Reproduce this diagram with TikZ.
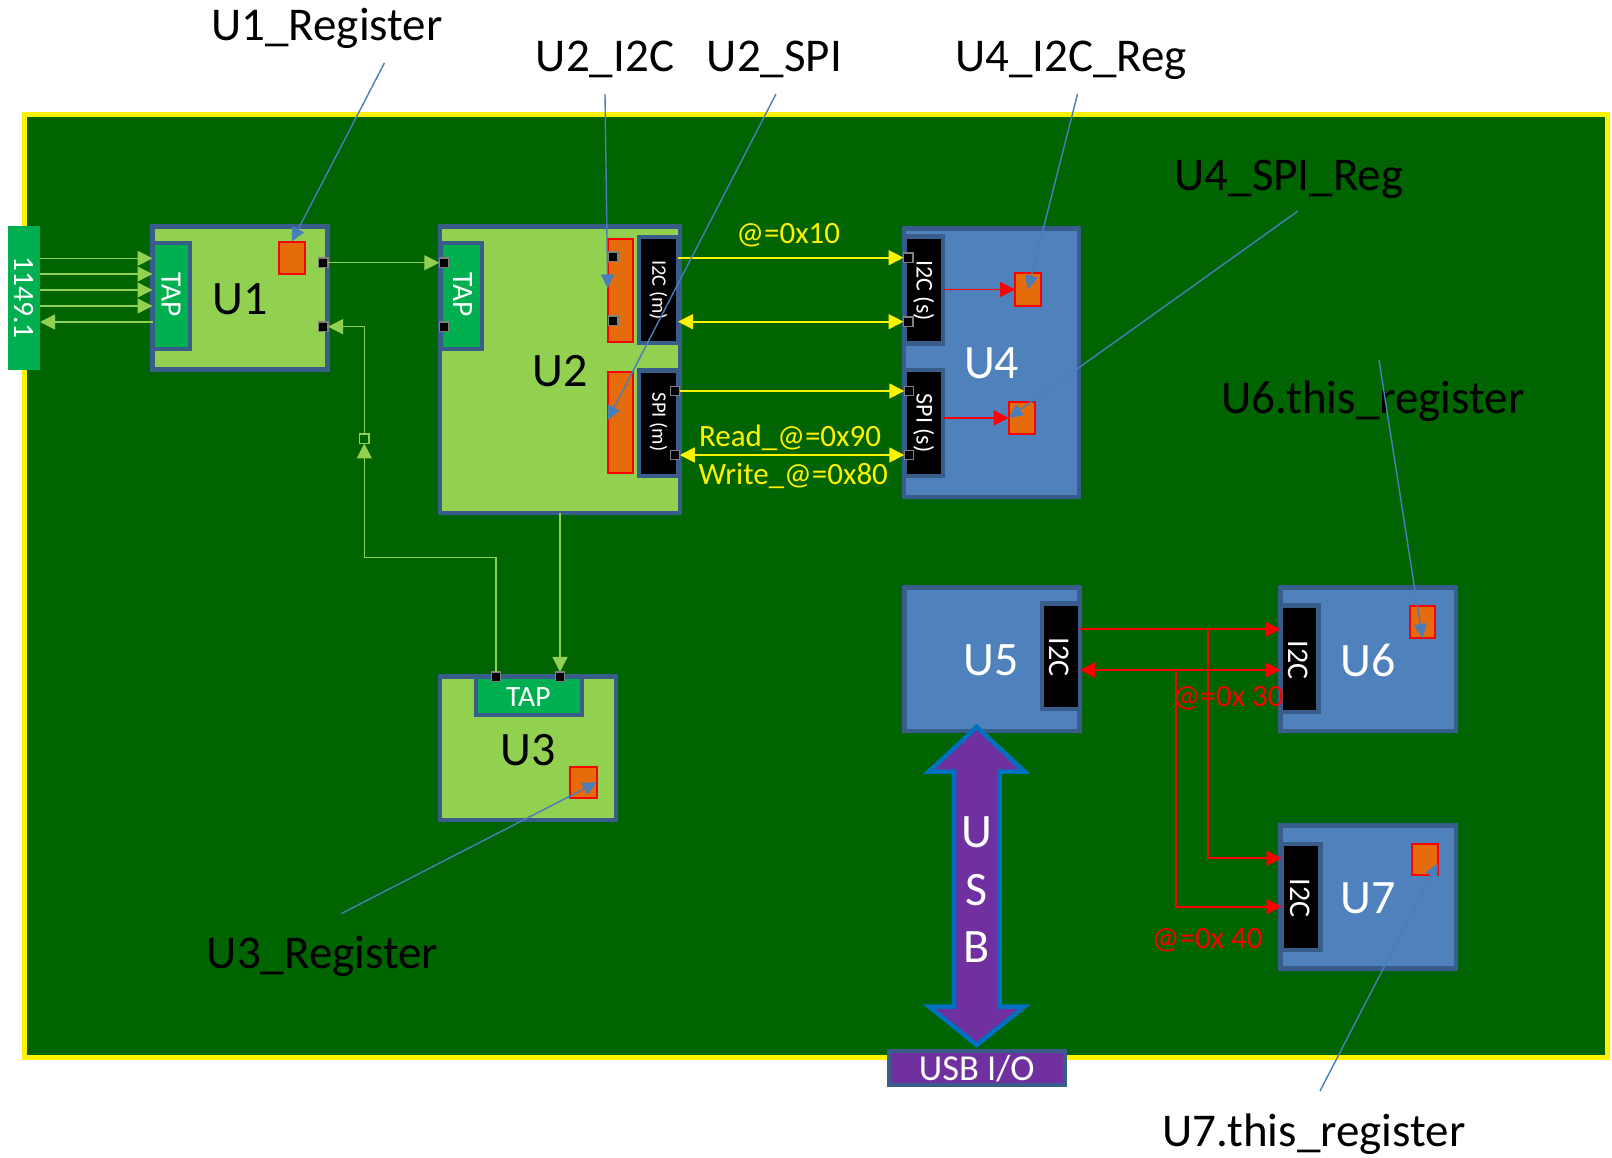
\documentclass[tikz,border=0pt]{standalone}
\usepackage{fontspec}
\setmainfont{Carlito}
\usetikzlibrary{arrows.meta,calc}
\definecolor{boardgreen}{RGB}{0,100,0}
\definecolor{lgreen}{HTML}{92D050}
\definecolor{tapgreen}{HTML}{00B050}
\definecolor{chipblue}{HTML}{4F81BD}
\definecolor{edgeblue}{HTML}{385D8A}
\definecolor{regorange}{HTML}{E46C0A}
\definecolor{usbpurple}{HTML}{7030A0}
\definecolor{usbedge}{HTML}{0070C0}
\definecolor{callblue}{HTML}{4A7EBB}
\definecolor{portgray}{HTML}{7F7F7F}
\newcommand\fsBig{\fontsize{48pt}{58pt}\selectfont}
\newcommand\fsCall{\fontsize{47pt}{56pt}\selectfont}
\newcommand\fsSig{\fontsize{31pt}{37pt}\selectfont}
\newcommand\fsTap{\fontsize{29.5pt}{35pt}\selectfont}
\newcommand\fsBusA{\fontsize{20.5pt}{25pt}\selectfont}
\newcommand\fsBusB{\fontsize{24pt}{29pt}\selectfont}
\newcommand\fsIIC{\fontsize{30pt}{36pt}\selectfont}
\newcommand\fsUsbIO{\fontsize{36.5pt}{43pt}\selectfont}
\begin{document}
\begin{tikzpicture}[x=1pt,y=-1pt,
  >={Triangle[length=15pt,width=15pt]},
  every node/.style={inner sep=0pt, outer sep=0pt},
  chip/.style={draw=edgeblue, line width=4.5pt},
  lgbox/.style={chip, fill=lgreen},
  bluebox/.style={chip, fill=chipblue},
  tapbox/.style={chip, fill=tapgreen, line width=4.3pt},
  busbox/.style={chip, fill=black, line width=4.3pt},
  regbox/.style={draw=red, fill=regorange, line width=2.2pt},
  port/.style={draw=portgray, fill=black, line width=1.3pt, minimum size=9.5pt},
  hport/.style={draw=lgreen, fill=boardgreen, line width=1.3pt, minimum size=9.5pt},
  gline/.style={draw=lgreen, line width=1.4pt},
  yline/.style={draw=yellow, line width=1.6pt},
  rline/.style={draw=red, line width=1.7pt},
  callout/.style={draw=callblue, line width=1.4pt, -{Triangle[length=14pt,width=13pt]}},
  rtext/.style={rotate=-90, text=white},
]
\fill[white] (0,0) rectangle (1612,1157);
\useasboundingbox (0,0) rectangle (1612,1157);

% board
\node[draw=yellow, fill=boardgreen, line width=5pt, minimum width=1583.5pt, minimum height=943pt] (board) at (815.75,586) {};

% 1149.1 connector
\node[fill=tapgreen, minimum width=32pt, minimum height=144pt] (bar) at (24,298) {};
\node[rtext, font=\fsTap] (barl) at (23.5,297.5) {1149.1};

% U1
\node[lgbox, minimum width=175pt, minimum height=143pt] (u1) at (240,298) {};
\node[tapbox, minimum width=37.5pt, minimum height=106pt] (tap1) at (171.25,296) {};
\node[rtext, font=\fsTap] (tap1l) at (171,295) {TAP};
\node[font=\fsBig] (u1l) at (240,299) {U1};
\node[regbox, minimum width=26pt, minimum height=32.3pt] (reg1) at (291.7,257.8) {};
\node[port] (p1a) at (323.3,262.7) {};
\node[port] (p1b) at (323.3,326.7) {};

% U2
\node[lgbox, minimum width=240pt, minimum height=286.5pt] (u2) at (560,369.75) {};
\node[tapbox, minimum width=41pt, minimum height=106pt] (tap2) at (461.5,296) {};
\node[rtext, font=\fsTap] (tap2l) at (462.5,295) {TAP};
\node[port] (p2a) at (444,262.7) {};
\node[port] (p2b) at (444,326.7) {};
\node[font=\fsBig] (u2l) at (560,371) {U2};
\node[busbox, minimum width=39pt, minimum height=106pt] (i2cm) at (658.5,290) {};
\node[rtext, font=\fsBusA] (i2cml) at (658.5,290) {I2C (m)};
\node[busbox, minimum width=39pt, minimum height=105.5pt] (spim) at (658.5,423.25) {};
\node[rtext, font=\fsBusA] (spiml) at (658.5,422) {SPI (m)};
\node[regbox, minimum width=25.3pt, minimum height=102.4pt] (o2a) at (620.35,290.5) {};
\node[regbox, minimum width=25.3pt, minimum height=101.6pt] (o2b) at (620.35,422.5) {};
\node[port] (p2i1) at (613.3,256.7) {};
\node[port] (p2i2) at (613.3,320.7) {};
\node[port] (p2c) at (675,391) {};
\node[port] (p2d) at (675,455) {};

% U4
\node[bluebox, minimum width=175pt, minimum height=268.5pt] (u4) at (991.5,362.75) {};
\node[busbox, minimum width=38.5pt, minimum height=107pt] (i2cs) at (923.75,290) {};
\node[rtext, font=\fsBusB] (i2csl) at (923.75,290.5) {I2C (s)};
\node[busbox, minimum width=38.5pt, minimum height=106pt] (spis) at (923.75,423) {};
\node[rtext, font=\fsBusB] (spisl) at (923.75,423) {SPI (s)};
\node[font=\fsBig, text=white] (u4l) at (991.7,363.3) {U4};
\node[regbox, minimum width=25.7pt, minimum height=32.4pt] (reg4a) at (1027.85,289.5) {};
\node[regbox, minimum width=26pt, minimum height=32.3pt] (reg4b) at (1021.7,417.85) {};
\node[port] (p4a) at (908.3,257.7) {};
\node[port] (p4b) at (908.3,321.7) {};
\node[port] (p4c) at (909,391) {};
\node[port] (p4d) at (909,455) {};

% U3
\node[lgbox, minimum width=176pt, minimum height=143.5pt] (u3) at (528,748.25) {};
\node[tapbox, minimum width=106pt, minimum height=38pt] (tap3) at (529,696) {};
\node[text=white, font=\fsTap] (tap3l) at (528.3,696.7) {TAP};
\node[font=\fsBig] (u3l) at (528.3,750) {U3};
\node[regbox, minimum width=26.4pt, minimum height=31.3pt] (reg3) at (583.5,782.35) {};
\node[port] (p3a) at (496,676.7) {};
\node[port] (p3b) at (560,676.7) {};

% U5
\node[bluebox, minimum width=175.2pt, minimum height=143.5pt] (u5) at (991.9,659.25) {};
\node[busbox, minimum width=38.3pt, minimum height=105.5pt] (u5i2c) at (1060.85,656.25) {};
\node[rtext, font=\fsIIC] (u5i2cl) at (1059.5,657.3) {I2C};
\node[font=\fsBig, text=white] (u5l) at (991,660) {U5};

% U6
\node[bluebox, minimum width=175.5pt, minimum height=143.5pt] (u6) at (1368.25,659.25) {};
\node[busbox, minimum width=38pt, minimum height=106.5pt] (u6i2c) at (1299.5,658.75) {};
\node[rtext, font=\fsIIC] (u6i2cl) at (1298,660) {I2C};
\node[font=\fsBig, text=white] (u6l) at (1368,660) {U6};
\node[regbox, minimum width=25.1pt, minimum height=31.7pt] (reg6) at (1422.45,622.15) {};

% U7
\node[bluebox, minimum width=175.5pt, minimum height=143pt] (u7) at (1368.25,897) {};
\node[busbox, minimum width=39pt, minimum height=106pt] (u7i2c) at (1301,897) {};
\node[rtext, font=\fsIIC] (u7i2cl) at (1300,898.3) {I2C};
\node[font=\fsBig, text=white] (u7l) at (1368,898.3) {U7};
\node[regbox, minimum width=25.9pt, minimum height=31pt] (reg7) at (1424.75,859.2) {};

% USB double arrow
\draw[draw=usbedge, fill=usbpurple, line width=4.5pt, line join=miter]
  (976.7,727) -- (1024.5,771.5) -- (999.5,771.5) -- (999.5,1006.5) -- (1024.5,1006.5)
  -- (976.7,1045) -- (929,1006.5) -- (954,1006.5) -- (954,771.5) -- (929,771.5) -- cycle;
\node[font=\fsBig, text=white] (usbU) at (976.7,832.5) {U};
\node[font=\fsBig, text=white] (usbS) at (976.7,890) {S};
\node[font=\fsBig, text=white] (usbB) at (976.7,947.5) {B};
\node[chip, fill=usbpurple, minimum width=175.6pt, minimum height=34pt] (usbio) at (977,1067.8) {};
\node[font=\fsUsbIO, text=white] (usbiol) at (976.7,1069) {USB I/O};

% JTAG connectors (green)
\coordinate (ya) at (0,258.3);
\coordinate (yb) at (0,274);
\coordinate (yc) at (0,290);
\coordinate (yd) at (0,306);
\coordinate (ye) at (0,322);
\draw[gline,->] (bar.east |- ya) -- (tap1.west |- ya);
\draw[gline,->] (bar.east |- yb) -- (tap1.west |- yb);
\draw[gline,->] (bar.east |- yc) -- (tap1.west |- yc);
\draw[gline,->] (bar.east |- yd) -- (tap1.west |- yd);
\draw[gline,->] (tap1.west |- ye) -- (bar.east |- ye);
\draw[gline,->] (p1a.east) -- (p2a.west);
\draw[gline,->] (p3b.north |- u2.south) -- (p3b.north);
\node[hport] (hsq) at (364.3,438.7) {};
\coordinate (bend) at (364.3,557.7);
\draw[gline,->] (p3a.north) |- (bend) -- (hsq.south);
\draw[gline,->] (hsq.north) |- (p1b.east);

% yellow buses
\draw[yline,->] (i2cm.east |- p4a) -- (p4a.west);
\draw[yline,<->] (i2cm.east |- p4b) -- (p4b.west);
\draw[yline,->] (p2c.east) -- (p4c.west);
\draw[yline,<->] (p2d.east) -- (p4d.west);
\node[font=\fsSig, text=yellow, anchor=base] (lab10) at (788.3,243) {@=0x10};
\node[font=\fsSig, text=yellow, anchor=base] (lab90) at (790,446) {Read\_@=0x90};
\node[font=\fsSig, text=yellow, anchor=base] (lab80) at (793.3,484) {Write\_@=0x80};

% red internal
\draw[rline,->] (i2cs.east |- reg4a) -- (reg4a.west);
\draw[rline,->] (spis.east |- reg4b) -- (reg4b.west);

% red I2C bus
\coordinate (ra) at (0,629.3);
\coordinate (rb) at (0,670);
\coordinate (rc) at (0,858.3);
\coordinate (rd) at (0,906.7);
\coordinate (ja) at (1208,629.3);
\coordinate (jb) at (1175.8,670);
\draw[rline,->] (u5i2c.east |- ra) -- (u6i2c.west |- ra);
\draw[rline,<->] (u5i2c.east |- rb) -- (u6i2c.west |- rb);
\draw[rline,->] (ja) |- (u7i2c.west |- rc);
\draw[rline,->] (jb) |- (u7i2c.west |- rd);
\node[font=\fsSig, text=red, anchor=base] (lab30) at (1228.3,706.5) {@=0x 30};
\node[font=\fsSig, text=red, anchor=base] (lab40) at (1207.2,948) {@=0x 40};

% callout labels
\node[font=\fsCall, anchor=base] (cl1) at (327,40.5) {U1\_Register};
\node[font=\fsCall, anchor=base] (cl2) at (605,71) {U2\_I2C};
\node[font=\fsCall, anchor=base] (cl3) at (774.5,71) {U2\_SPI};
\node[font=\fsCall, anchor=base] (cl4) at (1071,71) {U4\_I2C\_Reg};
\node[font=\fsCall, anchor=base] (cl5) at (1289,190) {U4\_SPI\_Reg};
\node[font=\fsCall, anchor=base] (cl6) at (1373,413) {U6.this\_register};
\node[font=\fsCall, anchor=base] (cl7) at (1314,1146) {U7.this\_register};
\node[font=\fsCall, anchor=base] (cl8) at (322.5,968) {U3\_Register};

\coordinate (c1) at (384.4,63);
\coordinate (c2) at (605,94);
\coordinate (c3) at (776,94);
\coordinate (c4) at (1077.5,94);
\coordinate (c5) at (1298,211);
\coordinate (c6) at (1379,360);
\coordinate (c7) at (1320,1091);
\coordinate (c8) at (341.5,913.5);
\coordinate (t2) at (0,288.3);
\coordinate (t3) at (0,420);
\draw[callout] (c1) -- (reg1.north);
\draw[callout] (c2) -- (o2a.west |- t2);
\draw[callout] (c3) -- (o2b.west |- t3);
\draw[callout] (c4) -- (reg4a.center);
\draw[callout] (c5) -- (reg4b.west);
\draw[callout] (c6) -- (reg6.south);
\draw[callout] (c7) -- ($(reg7.east)+(0,4)$);
\draw[callout] (c8) -- (reg3.east);
\end{tikzpicture}
\end{document}
